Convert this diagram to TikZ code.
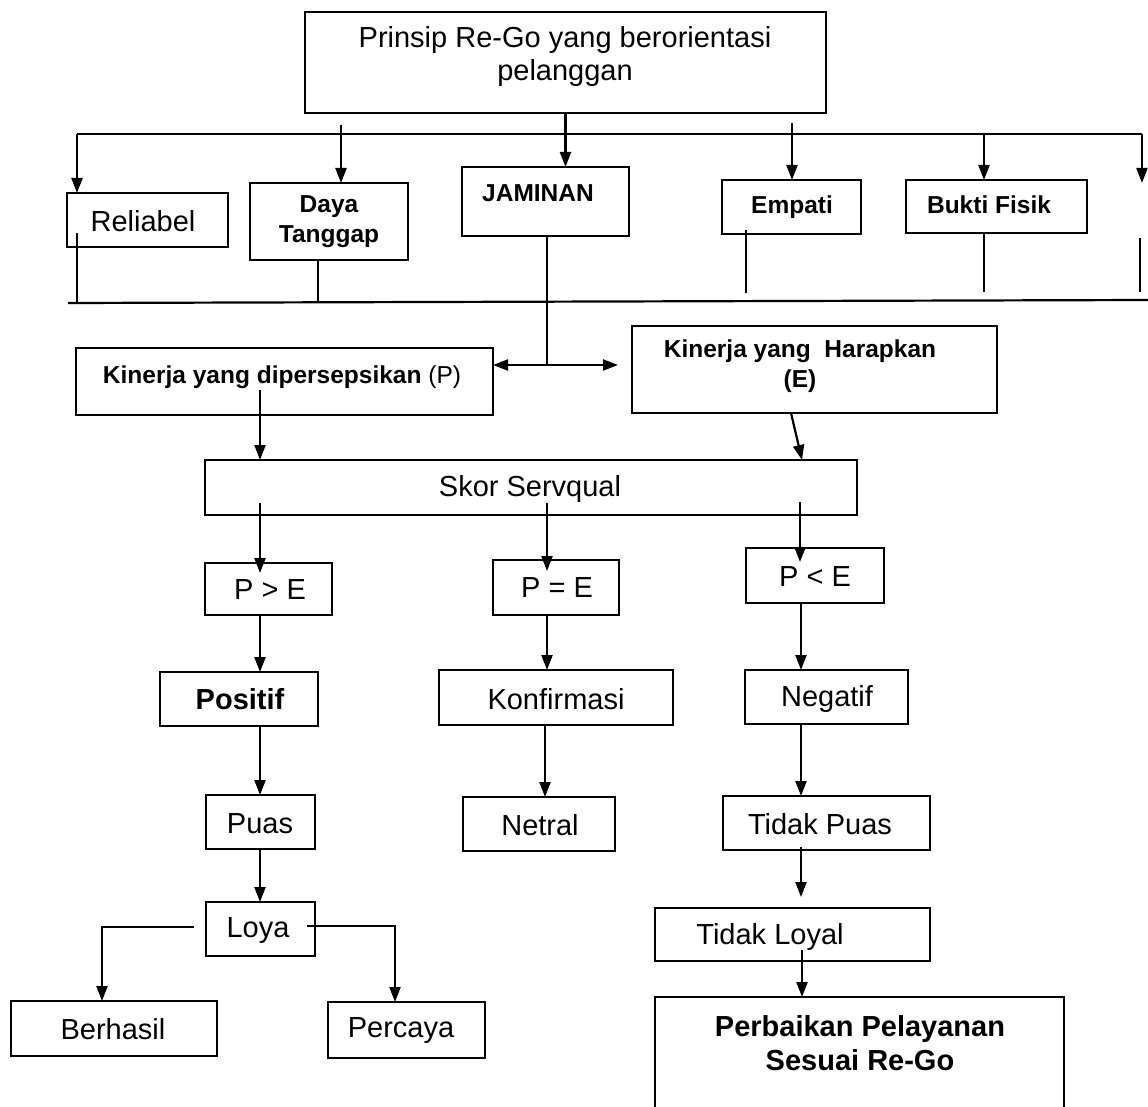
\documentclass[tikz,border=0pt]{standalone}
\usepackage{fontspec}
\setmainfont{Liberation Sans}
\usetikzlibrary{arrows.meta,calc}
\newcommand\bx[5]{\node[box, minimum width={#4-#2}, minimum height={#5-#3}] (#1) at ({(#2+#4)/2},{(#3+#5)/2}) {};}
\begin{document}
\begin{tikzpicture}[x=1pt,y=-1pt,
  box/.style={draw, line width=2.4pt, inner sep=0pt, outer sep=0pt},
  ln/.style={line width=2.2pt},
  arr/.style={ln, -{Triangle[length=15pt,width=11pt]}},
  nt/.style={font=\fontsize{29}{33}\selectfont, inner sep=0pt, align=center},
  bt/.style={font=\fontsize{24.5}{30}\selectfont\bfseries, inner sep=0pt, align=center},
  bb/.style={font=\fontsize{29}{34}\selectfont\bfseries, inner sep=0pt, align=center}]
\useasboundingbox[fill=white] (0,0) rectangle (1148,1107);

% boxes
\bx{prinsip}{305}{12}{826}{113}
\bx{rel}{67}{193}{228}{247}
\bx{daya}{250}{183}{408}{260}
\bx{jam}{462}{167}{629}{236}
\bx{emp}{722}{180}{861}{234}
\bx{bukti}{906}{180}{1087}{233}
\bx{kp}{76}{348}{493}{415}
\bx{ke}{632}{326}{997}{413}
\bx{skor}{205}{460}{857}{515}
\bx{pge}{205}{563}{332}{615}
\bx{pee}{493}{560}{619}{615}
\bx{ple}{746}{548}{884}{603}
\bx{pos}{160}{672}{318}{726}
\bx{konf}{439}{670}{673}{725}
\bx{neg}{745}{670}{908}{724}
\bx{puas}{206}{795}{315}{849}
\bx{netral}{463}{797}{615}{851}
\bx{tpuas}{723}{796}{930}{850}
\bx{loya}{206}{902}{315}{956}
\bx{tloyal}{655}{908}{930}{961}
\bx{berh}{11}{1001}{217}{1056}
\bx{perc}{328}{1002}{485}{1058}
\bx{perb}{655}{997}{1064}{1125}

% texts
\node[nt] (prinsipT) at (565,57) {Prinsip Re-Go yang berorientasi\\pelanggan};
\node[nt] (relT) at (143,221) {Reliabel};
\node[bt] (dayaT) at (329,222) {Daya\\Tanggap};
\node[bt] (jamT) at (538,193) {JAMINAN};
\node[bt] (empT) at (792,207) {Empati};
\node[bt] (buktiT) at (989,205) {Bukti Fisik};
\node[bt] (kpT) at (282,377) {Kinerja yang dipersepsikan \mdseries(P)};
\node[bt] (keT) at (800,366) {Kinerja yang\ \ Harapkan\\(E)};
\node[nt] (skorT) at (530,489) {Skor Servqual};
\node[nt] (pgeT) at (270,590) {P > E};
\node[nt] (peeT) at (557,588) {P = E};
\node[nt] (pleT) at (815,577) {P < E};
\node[bb] (posT) at (240,699) {Positif};
\node[nt] (konfT) at (556,699) {Konfirmasi};
\node[nt] (negT) at (827,699) {Negatif};
\node[nt] (puasT) at (260,824) {Puas};
\node[nt] (netralT) at (540,825) {Netral};
\node[nt] (tpuasT) at (820,824) {Tidak Puas};
\node[nt] (loyaT) at (258,931) {Loya};
\node[nt] (tloyalT) at (770,937) {Tidak Loyal};
\node[nt] (berhT) at (113,1029) {Berhasil};
\node[nt] (percT) at (401,1031) {Percaya};
\node[bb] (perbT) at (860,1043) {Perbaikan Pelayanan\\Sesuai Re-Go};

% top distribution
\coordinate (tl) at (77,134);
\coordinate (tr) at (1142,134);
\coordinate (rend) at (1142,183);
\coordinate (bl) at (68,303);
\coordinate (br) at (1148,300);
\draw[arr] (prinsip.south) -- (jam.north -| prinsip.south);
\draw[ln] (tl) -- (tr);
\draw[arr] (tl) -- (rel.north -| tl);
\draw[arr] (tr) -- (rend);
\draw[arr, shorten <=12pt] (prinsip.south -| 341,0) -- (daya.north -| 341,0);
\draw[arr, shorten <=10pt] (prinsip.south -| 792,0) -- (emp.north -| 792,0);
\draw[arr] (tl -| 984,0) -- (bukti.north -| 984,0);

% bottom collector
\draw[ln] (bl) -- (br);
\draw[ln] ($(rel.south -| tl)+(0,-14)$) -- (tl |- bl);
\draw[ln] (daya.south -| 318,0) -- (318,303);
\draw[ln] ($(emp.south -| 746,0)+(0,-4)$) -- (746,293);
\draw[ln] (bukti.south -| 984,0) -- (984,292);
\draw[ln] (1140,238) -- (1140,292);

% jaminan to kinerja
\coordinate (j) at (547,365);
\draw[ln] (jam.south -| j) -- (j);
\draw[arr] (j) -- (j -| kp.east);
\draw[arr, shorten >=14pt] (j) -- (j -| ke.west);

% kinerja to skor
\draw[arr] ($(kp.south -| 260,0)+(0,-25)$) -- (skor.north -| 260,0);
\draw[arr] (ke.south -| 791,0) -- (skor.north -| 802,0);

% skor to comparisons
\draw[arr] ($(skor.south -| 260,0)+(0,-12)$) -- ($(pge.north -| 260,0)+(0,10)$);
\draw[arr] ($(skor.south -| 547,0)+(0,-12)$) -- ($(pee.north -| 547,0)+(0,11)$);
\draw[arr] ($(skor.south -| 800,0)+(0,-13)$) -- ($(ple.north -| 800,0)+(0,14)$);

% comparisons down
\draw[arr] (pge.south -| 260,0) -- (pos.north -| 260,0);
\draw[arr] (pee.south -| 547,0) -- (konf.north -| 547,0);
\draw[arr] (ple.south -| 801,0) -- (neg.north -| 801,0);
\draw[arr] (pos.south -| 260,0) -- (puas.north -| 260,0);
\draw[arr] (konf.south -| 545,0) -- (netral.north -| 545,0);
\draw[arr] (neg.south -| 801,0) -- (tpuas.north -| 801,0);
\draw[arr] (puas.south -| 260,0) -- (loya.north -| 260,0);
\draw[arr, shorten >=11pt] ($(tpuas.south -| 801,0)+(0,-3)$) -- (tloyal.north -| 801,0);
\draw[arr] ($(tloyal.south -| 802,0)+(0,-11)$) -- (perb.north -| 802,0);

% loya branches
\draw[arr, shorten <=12pt] (loya.west |- 0,927) -| (berh.north -| 102,0);
\draw[arr] ($(loya.east |- 0,926)+(-8,0)$) -| (perc.north -| 395,0);
\end{tikzpicture}
\end{document}
